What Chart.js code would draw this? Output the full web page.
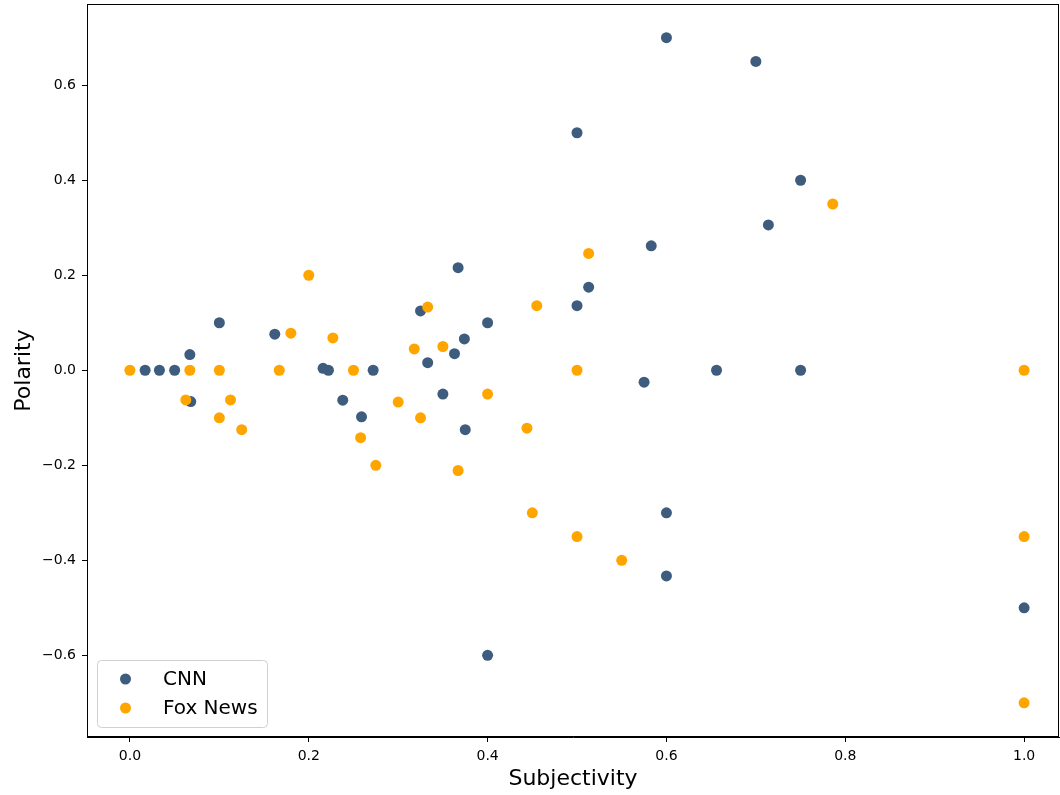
<!DOCTYPE html>
<html>
<head>
<meta charset="utf-8">
<script src="https://cdn.jsdelivr.net/npm/chart.js@4"></script>
<style>
  html, body { margin: 0; padding: 0; background: #fff; }
</style>
</head>
<body>
<canvas id="myChart" width="1060" height="795"></canvas>
<script>
// Values
const cnnSubjectivity = [0.6, 0.7, 0.5, 0.75, 0.714, 0.583, 0.367, 0.513, 0.5, 0.325, 0.1, 0.4,
  0.162, 0.374, 0.067, 0.363, 0.333, 0.216, 0.222, 0.017, 0.033, 0.05, 0.272, 0.656, 0.75,
  0.575, 0.35, 0.068, 0.238, 0.259, 0.375, 0.6, 0.6, 0.4, 1.0];
const cnnPolarity = [0.7, 0.65, 0.5, 0.4, 0.306, 0.262, 0.216, 0.175, 0.136, 0.125, 0.1, 0.1,
  0.076, 0.066, 0.033, 0.035, 0.016, 0.004, 0, 0, 0, 0, 0, 0, 0,
  -0.025, -0.05, -0.066, -0.063, -0.098, -0.125, -0.3, -0.433, -0.6, -0.5];

const foxSubjectivity = [0, 0.067, 0.1, 0.167, 0.25, 0.5, 1.0, 0.0625, 0.1, 0.1125, 0.125,
  0.2, 0.18, 0.227, 0.258, 0.275, 0.3, 0.318, 0.325, 0.333, 0.35, 0.367, 0.4, 0.444,
  0.45, 0.455, 0.5, 0.513, 0.55, 0.786, 1.0, 1.0];
const foxPolarity = [0, 0, 0, 0, 0, 0, 0, -0.0625, -0.1, -0.0625, -0.125,
  0.2, 0.078, 0.068, -0.142, -0.2, -0.067, 0.045, -0.1, 0.133, 0.05, -0.211, -0.05, -0.122,
  -0.3, 0.136, -0.35, 0.246, -0.4, 0.35, -0.35, -0.7];

const xTicks = [0, 0.2, 0.4, 0.6, 0.8, 1.0];
const yTicks = [-0.6, -0.4, -0.2, 0, 0.2, 0.4, 0.6];

const seriesNames = ['CNN', 'Fox News'];
const seriesColors = ['#3e5d7e', '#ffa500'];

function toPoints(xs, ys) {
  return xs.map((x, i) => ({ x: x, y: ys[i] }));
}

function fmt(v) {
  return v.toFixed(1).replace('-', '\u2212');
}

const fontFamily = '"DejaVu Sans", sans-serif';

// Black box around the plot area (matplotlib style spines)
const framePlugin = {
  id: 'frame',
  afterDraw(chart) {
    const { ctx, chartArea: a } = chart;
    ctx.save();
    ctx.strokeStyle = '#000';
    ctx.lineWidth = 1;
    ctx.strokeRect(a.left + 0.5, a.top + 0.5, a.right - a.left - 1, a.bottom - a.top - 1);
    ctx.restore();
  }
};

// Legend boxed inside the lower left of the plot
const legendPlugin = {
  id: 'boxLegend',
  afterDraw(chart) {
    const { ctx, chartArea: a } = chart;
    const left = a.left + 10, top = a.bottom - 77, w = 170, h = 67;
    ctx.save();
    ctx.fillStyle = 'rgba(255,255,255,0.8)';
    ctx.strokeStyle = '#d0d0d0';
    ctx.lineWidth = 1;
    ctx.beginPath();
    ctx.roundRect(left + 0.5, top + 0.5, w, h, 4);
    ctx.fill();
    ctx.stroke();
    ctx.font = '20px ' + fontFamily;
    ctx.textBaseline = 'middle';
    chart.data.datasets.forEach((ds, i) => {
      const cy = top + 19 + i * 29;
      ctx.fillStyle = ds.backgroundColor;
      ctx.beginPath();
      ctx.arc(left + 28.5, cy, 5.5, 0, Math.PI * 2);
      ctx.fill();
      ctx.fillStyle = '#000';
      ctx.fillText(ds.label, left + 66, cy + 1);
    });
    ctx.restore();
  }
};

const ctx = document.getElementById('myChart').getContext('2d');
const chart = new Chart(ctx, {
  type: 'scatter',
  data: {
    datasets: [
      {
        label: seriesNames[0],
        data: toPoints(cnnSubjectivity, cnnPolarity),
        backgroundColor: seriesColors[0],
        borderWidth: 0,
        pointRadius: 5.5,
        order: 2
      },
      {
        label: seriesNames[1],
        data: toPoints(foxSubjectivity, foxPolarity),
        backgroundColor: seriesColors[1],
        borderWidth: 0,
        pointRadius: 5.5,
        order: 1
      }
    ]
  },
  options: {
    responsive: false,
    animation: false,
    devicePixelRatio: 1,
    layout: { autoPadding: false, padding: { top: 4, right: 1, left: 0, bottom: 0 } },
    plugins: {
      legend: { display: false },
      tooltip: { enabled: false }
    },
    scales: {
      x: {
        type: 'linear',
        min: -0.048,
        max: 1.039,
        afterBuildTicks: scale => { scale.ticks = xTicks.map(v => ({ value: v })); },
        afterFit: scale => {
          scale.height = 58;
          scale.paddingLeft = 0;
          scale.paddingRight = 0;
        },
        ticks: {
          callback: v => fmt(v),
          color: '#000',
          padding: 6,
          maxRotation: 0,
          font: { family: fontFamily, size: 14 }
        },
        grid: { drawOnChartArea: false, drawTicks: true, tickLength: 5, color: '#000' },
        border: { display: true, color: '#000' },
        title: {
          display: true,
          text: 'Subjectivity',
          color: '#000',
          font: { family: fontFamily, size: 22, lineHeight: 1 },
          padding: { top: 0, bottom: 5 }
        }
      },
      y: {
        type: 'linear',
        min: -0.772,
        max: 0.771,
        afterBuildTicks: scale => { scale.ticks = yTicks.map(v => ({ value: v })); },
        afterFit: scale => {
          scale.width = 87;
          scale.paddingTop = 0;
          scale.paddingBottom = 0;
        },
        ticks: {
          callback: v => fmt(v),
          color: '#000',
          padding: 6,
          font: { family: fontFamily, size: 14 }
        },
        grid: { drawOnChartArea: false, drawTicks: true, tickLength: 5, color: '#000' },
        border: { display: true, color: '#000' },
        title: {
          display: true,
          text: 'Polarity',
          color: '#000',
          font: { family: fontFamily, size: 22, lineHeight: 1 },
          padding: { top: 13, bottom: 0 }
        }
      }
    }
  },
  plugins: [framePlugin, legendPlugin]
});
</script>
</body>
</html>
